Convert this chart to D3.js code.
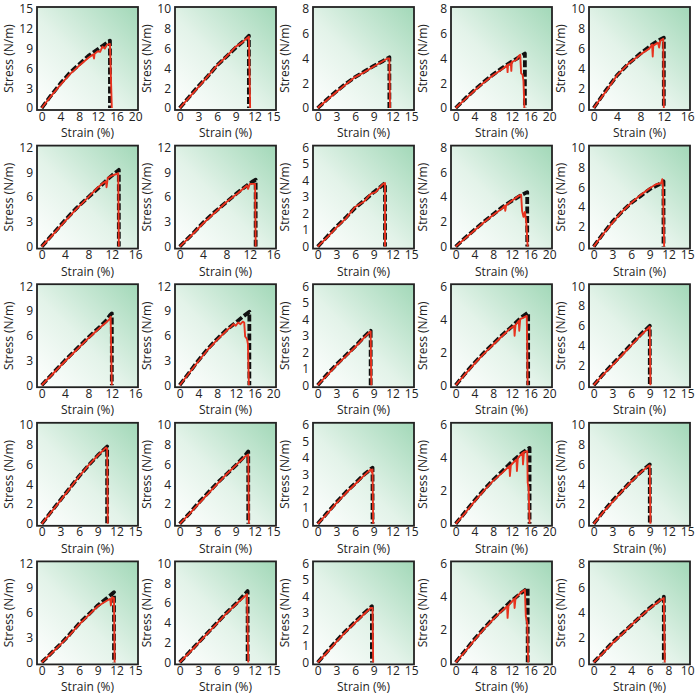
<!DOCTYPE html>
<html><head><meta charset="utf-8">
<script src="https://cdn.jsdelivr.net/npm/d3@7"></script>
<style>body{margin:0;background:#fff}svg{display:block}text{font-family:"Open Sans","Noto Sans",sans-serif;fill:#222}</style>
</head><body><svg id="c" width="700" height="695"></svg>
<script>
// ---- tick label sets ----
const xTickSets = {a:[0,4,8,12,16,20], b:[0,3,6,9,12,15], c:[0,4,8,12,16], d:[0,2,4,6,8,10]};
const yTickSets = {p:[0,3,6,9,12,15], q:[0,2,4,6,8,10], r:[0,2,4,6,8], s:[0,3,6,9,12], t:[0,1,2,3,4,5,6], u:[0,2,4,6]};
const panelXTicks = ["a","b","b","a","c", "c","c","b","a","b", "c","a","b","a","b", "b","b","b","a","b", "b","b","b","a","d"];
const panelYTicks = ["p","q","r","r","q", "s","s","t","r","q", "s","s","t","u","q", "q","q","t","u","q", "s","q","t","u","r"];
const xLabel = "Strain (%)";
const yLabel = "Stress (N/m)";

// ---- black (dashed) curves, [strain, stress] ----
const blackCurves = [
 [[0,0],[2,1.9],[4,3.7],[6,5.3],[8,6.6],[10,7.9],[12,8.9],[13,9.4],[14,9.9],[14.6,10.2],[14.6,0]],
 [[0,0],[1.5,1.1],[3,2.2],[4.5,3.2],[6,4.3],[7.5,5.2],[9,6.1],[10.5,6.9],[11.1,7.3],[11.1,0]],
 [[0,0],[1.5,0.7],[3,1.35],[4.5,1.95],[6,2.5],[7.5,2.95],[9,3.4],[10.5,3.8],[11.5,4.1],[11.5,0]],
 [[0,0],[2,0.75],[4,1.45],[6,2.1],[8,2.7],[10,3.25],[12,3.75],[13.5,4.1],[14.8,4.4],[14.8,0]],
 [[0,0],[2,1.7],[4,3.3],[6,4.5],[8,5.5],[10,6.4],[11,6.8],[12,7.1],[12,0]],
 [[0,0],[2,1.6],[4,3.2],[6,4.7],[8,6.0],[10,7.3],[11.5,8.3],[12.5,8.9],[13.2,9.3],[13.2,0]],
 [[0,0],[2,1.4],[4,2.9],[6,4.2],[8,5.4],[10,6.6],[11.5,7.4],[12.5,7.9],[13,8.1],[13,0]],
 [[0,0],[1.5,0.6],[3,1.2],[4.5,1.75],[6,2.35],[7.5,2.8],[9,3.3],[10,3.6],[10.8,3.85],[10.8,0]],
 [[0,0],[2,0.7],[4,1.35],[6,2.0],[8,2.6],[10,3.2],[12,3.7],[14,4.15],[15.3,4.4],[15.3,0]],
 [[0,0],[1.5,1.3],[3,2.5],[4.5,3.5],[6,4.4],[7.5,5.1],[9,5.8],[10.5,6.3],[11.2,6.6],[11.2,0]],
 [[0,0],[2,1.5],[4,3.0],[6,4.4],[8,5.8],[10,7.1],[11,7.8],[11.7,8.5],[12,8.7],[12,0]],
 [[0,0],[2,1.5],[4,3.0],[6,4.4],[8,5.6],[10,6.7],[12,7.6],[13.5,8.3],[14.9,8.9],[14.9,0]],
 [[0,0],[1.5,0.65],[3,1.25],[4.5,1.8],[6,2.35],[7.5,2.95],[8.5,3.3],[8.5,0]],
 [[0,0],[2,0.7],[4,1.35],[6,1.95],[8,2.5],[10,3.05],[12,3.55],[14,4.1],[15.5,4.4],[15.5,0]],
 [[0,0],[1.5,1.1],[3,2.1],[4.5,3.1],[6,4.1],[7.5,5.1],[9,6.0],[9,0]],
 [[0,0],[1.5,1.2],[3,2.4],[4.5,3.6],[6,4.8],[7.5,5.9],[9,6.9],[10.5,7.8],[10.5,0]],
 [[0,0],[1.5,1.0],[3,2.1],[4.5,3.1],[6,4.1],[7.5,5.0],[9,5.9],[10.5,6.9],[11,7.3],[11,0]],
 [[0,0],[1.5,0.65],[3,1.3],[4.5,1.9],[6,2.45],[7.5,3.0],[8.8,3.4],[8.8,0]],
 [[0,0],[2,0.7],[4,1.4],[6,2.05],[8,2.65],[10,3.2],[12,3.75],[14,4.25],[15.8,4.6],[15.8,0]],
 [[0,0],[1.5,1.2],[3,2.3],[4.5,3.3],[6,4.3],[7.5,5.2],[9,6.0],[9,0]],
 [[0,0],[1.5,1.1],[3,2.2],[4.5,3.4],[6,4.7],[7.5,5.8],[9,6.9],[10.5,7.8],[11.6,8.5],[11.6,0]],
 [[0,0],[1.5,1.0],[3,2.0],[4.5,3.0],[6,4.0],[7.5,5.0],[9,5.9],[10.9,7.2],[10.9,0]],
 [[0,0],[1.5,0.65],[3,1.3],[4.5,1.9],[6,2.45],[7.5,3.0],[8.7,3.4],[8.7,0]],
 [[0,0],[2,0.7],[4,1.4],[6,2.05],[8,2.65],[10,3.2],[12,3.75],[14,4.2],[15.4,4.5],[15.4,0]],
 [[0,0],[1,0.8],[2,1.6],[3,2.3],[4,3.0],[5,3.7],[6,4.4],[7,5.0],[7.5,5.3],[7.5,0]]
];

// ---- red curves, [strain, stress] ----
const redCurves = [
 [[0,0],[2,1.8],[4,3.5],[6,5.1],[8,6.4],[10,7.6],[11,8.1],[11.2,7.5],[11.3,8.2],[12,8.6],[12.5,8.5],[13,9.3],[13.5,9.0],[14,9.6],[14.6,9.7],[15,0]],
 [[0,0],[1.5,1.05],[3,2.1],[4.5,3.2],[6,4.3],[7.5,5.2],[9,6.2],[10,6.6],[10.5,6.9],[11.1,7.2],[11.3,0]],
 [[0,0],[1.5,0.65],[3,1.3],[4.5,1.9],[6,2.5],[7.5,2.9],[9,3.35],[10.5,3.8],[11.2,4.0],[11.5,4.0],[11.6,0]],
 [[0,0],[2,0.7],[4,1.4],[6,2.05],[8,2.65],[10,3.15],[11,3.45],[11.1,2.9],[11.2,3.5],[11.8,3.6],[11.9,3.0],[12,3.7],[13,3.9],[13.5,4.2],[13.8,4.3],[14,2.8],[14.3,2.7],[14.5,2.2],[14.7,0]],
 [[0,0],[2,1.6],[4,3.3],[6,4.5],[8,5.4],[9.5,6.0],[10,6.4],[10.1,5.2],[10.2,6.3],[11,6.6],[11.2,6.1],[11.4,6.8],[11.9,7.0],[12,0]],
 [[0,0],[2,1.5],[4,3.1],[6,4.6],[8,6.0],[9.5,7.1],[10.5,7.7],[11,7.9],[11.1,7.2],[11.3,8.3],[12,8.6],[12.8,8.8],[13.1,8.9],[13.2,0]],
 [[0,0],[2,1.35],[4,2.8],[6,4.1],[8,5.4],[10,6.5],[11,7.1],[11.5,7.4],[11.7,7.0],[12,7.6],[12.9,7.6],[13,0]],
 [[0,0],[1.5,0.55],[3,1.15],[4.5,1.7],[6,2.4],[7.5,2.75],[8.5,3.2],[9.3,3.3],[10,3.6],[10.5,3.8],[10.8,3.85],[10.8,0]],
 [[0,0],[2,0.65],[4,1.3],[6,1.95],[8,2.55],[10,3.1],[10.5,3.3],[10.6,2.9],[10.8,3.35],[12,3.7],[13.5,4.1],[14,4.2],[14.2,2.9],[14.5,2.4],[14.8,2.8],[15.1,2.0],[15.4,0]],
 [[0,0],[1.5,1.25],[3,2.4],[4.5,3.5],[6,4.4],[7.5,5.2],[9,5.9],[10,6.3],[10.8,6.4],[11,6.8],[11.1,6.2],[11.3,0]],
 [[0,0],[2,1.45],[4,2.9],[6,4.3],[8,5.7],[10,7.0],[11,7.6],[11.6,8.0],[11.8,8.3],[12,0]],
 [[0,0],[2,1.45],[4,2.9],[6,4.3],[8,5.5],[10,6.6],[11,7.1],[11.5,7.4],[12,7.2],[12.5,7.6],[13,7.4],[13.5,7.7],[13.8,7.6],[14,5.9],[14.4,5.6],[14.6,5.0],[14.8,0]],
 [[0,0],[1.5,0.6],[3,1.2],[4.5,1.75],[6,2.3],[7.5,2.9],[8.3,3.2],[8.5,3.25],[8.6,0]],
 [[0,0],[2,0.65],[4,1.3],[6,1.9],[8,2.45],[10,3.0],[11.5,3.4],[12.5,3.6],[12.6,3.0],[12.8,3.65],[13.5,3.9],[13.6,3.3],[13.8,4.0],[14.5,4.1],[15.2,4.2],[15.3,2.5],[15.4,0]],
 [[0,0],[1.5,1.05],[3,2.0],[4.5,3.0],[6,4.0],[7.5,5.0],[8.5,5.6],[9,5.9],[9.1,0]],
 [[0,0],[1.5,1.15],[3,2.35],[4.5,3.55],[6,4.8],[7.5,5.9],[9,6.9],[10.3,7.7],[10.5,7.6],[10.6,0]],
 [[0,0],[1.5,0.95],[3,2.0],[4.5,3.0],[6,4.0],[7.5,5.0],[9,5.9],[10.5,6.8],[11,7.0],[11.1,0]],
 [[0,0],[1.5,0.6],[3,1.25],[4.5,1.85],[6,2.4],[7.5,2.95],[8.5,3.3],[8.7,3.1],[8.8,3.3],[8.9,0]],
 [[0,0],[2,0.65],[4,1.35],[6,2.0],[8,2.6],[10,3.1],[11.5,3.5],[11.6,2.9],[11.8,3.55],[13,3.9],[13.1,3.2],[13.3,4.0],[14.3,4.3],[14.4,3.6],[14.6,4.35],[15.3,4.4],[15.4,2.5],[15.6,2.2],[15.8,0]],
 [[0,0],[1.5,1.15],[3,2.2],[4.5,3.25],[6,4.25],[7.5,5.15],[8.7,5.8],[9,5.9],[9.1,0]],
 [[0,0],[1.5,1.05],[3,2.15],[4.5,3.3],[6,4.6],[7.5,5.7],[9,6.8],[10.5,7.5],[11,7.7],[11.1,6.9],[11.3,7.9],[11.6,7.8],[11.7,0]],
 [[0,0],[1.5,0.95],[3,1.95],[4.5,2.95],[6,3.95],[7.5,4.95],[9,5.85],[10.5,6.7],[10.8,6.9],[11,0]],
 [[0,0],[1.5,0.6],[3,1.25],[4.5,1.85],[6,2.4],[7.5,2.95],[8.5,3.3],[8.8,3.3],[8.9,0]],
 [[0,0],[2,0.65],[4,1.35],[6,2.0],[8,2.6],[10,3.15],[11,3.4],[11.1,2.7],[11.3,3.45],[12.5,3.85],[12.6,3.3],[12.8,3.9],[14,4.25],[14.8,4.4],[15,2.8],[15.3,2.4],[15.5,0]],
 [[0,0],[1,0.75],[2,1.55],[3,2.25],[4,3.0],[5,3.7],[6,4.35],[7,4.95],[7.5,5.2],[7.6,0]]
];

// ---- layout ----
const svg = d3.select("#c");
const W = 101, H = 103;
const colLeft = c => 37 + c * 138;
const rowTop = r => 7 + r * 138.6;
const FONT = '"Open Sans","Noto Sans",sans-serif';

const defs = svg.append("defs");
const g0 = defs.append("linearGradient").attr("id","bg")
  .attr("x1",0).attr("y1",1).attr("x2",1).attr("y2",0);
g0.append("stop").attr("offset",0).attr("stop-color","#ffffff");
g0.append("stop").attr("offset",0.45).attr("stop-color","#e3f3e9");
g0.append("stop").attr("offset",1).attr("stop-color","#a2d8b8");

for (let i = 0; i < 25; i++) {
  const r = Math.floor(i / 5), c = i % 5;
  const L = colLeft(c), T = rowTop(r);
  const xt = xTickSets[panelXTicks[i]], yt = yTickSets[panelYTicks[i]];
  const xm = d3.max(xt), ym = d3.max(yt);
  const x = d3.scaleLinear().domain([-0.05 * xm, 1.03 * xm]).range([0, W]);
  const y = d3.scaleLinear().domain([-0.02 * ym, 1.02 * ym]).range([H, 0]);
  const g = svg.append("g").attr("transform", `translate(${L},${T})`);
  defs.append("clipPath").attr("id", "cp" + i).append("rect").attr("width", W).attr("height", H);
  g.append("rect").attr("width", W).attr("height", H).attr("fill", "url(#bg)");
  const pg = g.append("g").attr("clip-path", `url(#cp${i})`);
  const line = d3.line().x(d => x(d[0])).y(d => y(d[1]));
  pg.append("path").attr("d", line(blackCurves[i])).attr("fill","none")
    .attr("stroke","#111").attr("stroke-width",3.8).attr("stroke-dasharray","7,2.5")
    .attr("stroke-linejoin","round");
  pg.append("path").attr("d", line(redCurves[i])).attr("fill","none")
    .attr("stroke","#e8321e").attr("stroke-width",1.9).attr("stroke-linejoin","round");
  g.append("rect").attr("width", W).attr("height", H).attr("fill","none")
    .attr("stroke","#222").attr("stroke-width",1.8);
  const ax = g.append("g").attr("transform", `translate(0,${H})`)
    .call(d3.axisBottom(x).tickValues(xt).tickSize(0).tickPadding(2).tickFormat(d3.format("d")));
  const ay = g.append("g")
    .call(d3.axisLeft(y).tickValues(yt).tickSize(0).tickPadding(4).tickFormat(d3.format("d")));
  [ax, ay].forEach(a => {
    a.select(".domain").remove();
    a.selectAll("text").attr("font-size", 12).attr("fill", "#222").style("font-family", FONT);
  });
  g.append("text").attr("x", W / 2).attr("y", H + 27).attr("text-anchor","middle")
    .attr("font-size", 12).text(xLabel);
  g.append("text").attr("transform", `translate(-24,${H / 2}) rotate(-90)`)
    .attr("text-anchor","middle").attr("font-size", 12).text(yLabel);
}
</script></body></html>
